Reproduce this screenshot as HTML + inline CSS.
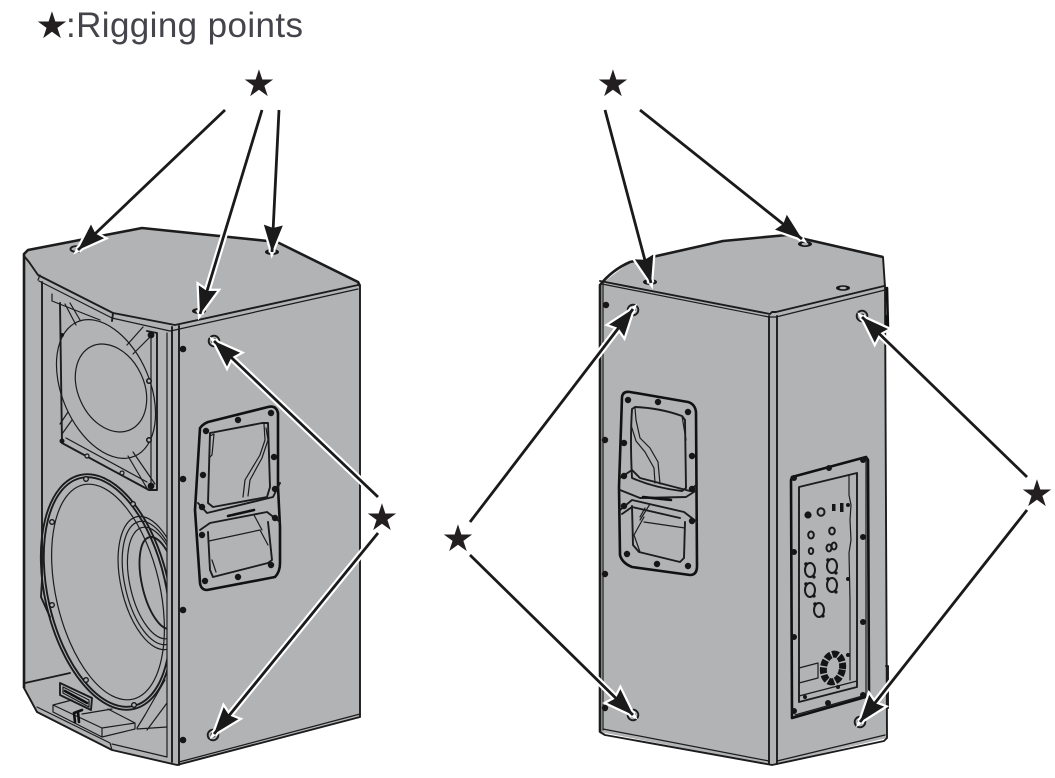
<!DOCTYPE html>
<html lang="en">
<head>
<meta charset="utf-8">
<title>Rigging points</title>
<style>
html,body{margin:0;padding:0;background:#fff;width:1055px;height:778px;overflow:hidden}
svg{display:block}
.b{fill:#b1b3b5;stroke:none}
.l{fill:none;stroke:#1c1c1c;stroke-width:1.2;stroke-linejoin:round;stroke-linecap:round}
.m{fill:none;stroke:#1c1c1c;stroke-width:1.9;stroke-linejoin:round;stroke-linecap:round}
.h{fill:none;stroke:#111;stroke-width:2.6;stroke-linejoin:round;stroke-linecap:round}
.t{fill:none;stroke:#1c1c1c;stroke-width:2.6;stroke-linejoin:round}
.d{fill:#161616;stroke:none}
.aw{fill:none;stroke:#fff;stroke-width:7;marker-end:url(#hw)}
.ab{fill:none;stroke:#1a1a1a;stroke-width:2.8;marker-end:url(#hb)}
.s{font-family:"DejaVu Sans",sans-serif;font-size:37px;fill:#231f20;text-anchor:middle}
</style>
</head>
<body>
<svg width="1055" height="778" viewBox="0 0 1055 778" xmlns="http://www.w3.org/2000/svg">
<defs>
<marker id="hb" markerUnits="userSpaceOnUse" markerWidth="40" markerHeight="40" refX="30" refY="20" orient="auto" overflow="visible">
<path d="M30,20 L3,10.5 L6,20 L3,29.5 Z" fill="#1a1a1a"/>
</marker>
<marker id="hw" markerUnits="userSpaceOnUse" markerWidth="40" markerHeight="40" refX="30" refY="20" orient="auto" overflow="visible">
<path d="M30,20 L3,10.5 L6,20 L3,29.5 Z" fill="#fff" stroke="#fff" stroke-width="4.5"/>
</marker>
<clipPath id="cw2"><polygon points="25,440 167,440 167,720 25,720"/></clipPath>
</defs>

<text class="s" x="52" y="38">★</text>
<text x="66" y="37" font-family="Liberation Sans, sans-serif" font-size="35" fill="#44444a" textLength="237" lengthAdjust="spacing">:Rigging points</text>

<!-- LEFT SPEAKER -->
<path class="b" d="M24,254 L28,250 L142,228 L277,242 L358,282 L360,286 L360,717 L177,765 L112,750 L37,712 L24,688 Z"/>
<path class="t" d="M24,688 L24,254 L28,250 L142,228 L277,242 L358,282 L360,286"/>
<path class="m" d="M360,286 L360,717 L177,765 L112,750 L37,712 L24,688"/>
<path class="m" d="M24,256 L29,262 L38,275 L113,313 L175,325 L358,285"/>
<path class="l" d="M38,280 L40,275 M39,281 L112,318 L170,331 L175,330 L358,289"/>
<path class="m" d="M113,313 L112,321"/>
<path class="m" d="M172,327 L172,762 M179,326 L179,765"/>
<path class="l" d="M167,333 L167,757 L112,744"/>
<path class="m" d="M42,282 L42,580"/>
<path class="l" d="M52,294 L52,301 L100,320"/>
<path class="m" d="M25,683 L70,673"/>
<path class="l" d="M37,707 L110,743 L112,750"/>
<path class="l" d="M179,762 L360,714"/>

<!-- upper horn -->
<path class="m" d="M60,303 L62,443 L149,490 L157,490 L157,333 L147,331"/>
<path class="l" d="M151,332 L151,487 M66,438 L147,482"/>
<ellipse class="l" cx="106" cy="389" rx="44" ry="73" transform="rotate(-23 106 389)"/>
<ellipse class="l" cx="111" cy="388" rx="33" ry="46" transform="rotate(-25 111 388)"/>
<path class="l" d="M65,304 L76,325 M70,303 L80,320 M127,345 L143,327 M133,354 L150,337 M72,420 L62,434 M68,412 L60,424 M128,456 L148,490 M133,452 L155,484"/>
<g class="d">
<circle cx="151" cy="335" r="3.4"/><circle cx="149" cy="381" r="3"/><circle cx="149" cy="440" r="3"/><circle cx="151" cy="486" r="3.4"/><circle cx="87" cy="456" r="2.6"/><circle cx="122" cy="473" r="2.6"/><circle cx="62" cy="441" r="2.5"/><circle cx="62" cy="335" r="2"/>
</g>
<g fill="#b1b3b5" stroke="none"><circle cx="149" cy="381" r="1.5"/><circle cx="149" cy="440" r="1.5"/><circle cx="87" cy="456" r="1.4"/><circle cx="122" cy="473" r="1.4"/></g>

<!-- woofer -->
<g clip-path="url(#cw2)">
<ellipse class="m" cx="107" cy="592" rx="62" ry="120" transform="rotate(-13 107 592)"/>
<ellipse class="m" cx="107" cy="592" rx="59" ry="117" transform="rotate(-13 107 592)"/>
<ellipse class="l" cx="108" cy="592" rx="52" ry="110" transform="rotate(-13 108 592)"/>
<ellipse class="l" cx="152" cy="583" rx="31" ry="68" transform="rotate(-13 152 583)"/>
<ellipse class="l" cx="153" cy="583" rx="28" ry="63" transform="rotate(-13 153 583)"/>
<ellipse class="l" cx="155" cy="583" rx="25" ry="57" transform="rotate(-13 155 583)"/>
<ellipse class="m" cx="160" cy="583" rx="18" ry="47" transform="rotate(-13 160 583)"/>
</g>
<path class="m" d="M42,580 L41,597 L50,617"/>
<g fill="#b1b3b5" stroke="#111" stroke-width="1.3">
<circle cx="86" cy="479" r="2.3"/><circle cx="133" cy="504" r="2.3"/><circle cx="52" cy="522" r="2.3"/><circle cx="52" cy="605" r="2.3"/><circle cx="86" cy="680" r="2.3"/><circle cx="134" cy="705" r="2.3"/>
</g>
<!-- bottom box and logo -->
<path class="m" d="M60,683 L92,698 L91,710 L60,695 Z"/>
<path class="l" d="M63,687 L89,700 L89,707 L63,693 Z"/>
<path class="h" d="M65,691 L87,703" stroke-dasharray="2 1"/>
<path class="l" d="M53,705 L72,700 M53,705 L53,712 L102,737 L135,729 L135,723 L108,709 M53,705 L102,728 L135,723 M102,728 L102,737"/>
<path class="l" d="M137,728 L145,715 L165,680 M147,730 L167,703 M137,729 L167,727"/>
<path class="h" d="M74,713 L82,710 M74,713 L75,722 M78,712 L79,722"/>
<path class="l" d="M82,714 L112,709"/>

<!-- left handle -->
<path class="h" d="M200,428 Q203,424 208,422 L268,407 Q276,405 278,413 L278,487 L280,527 L280,563 Q280,572 275,577 L207,590 Q201,590 200,583 L195,510 Z"/>
<path class="m" d="M210,433 L262,423 L268,423 L270,487 L267,497 L213,507 L208,503 Z"/>
<path class="m" d="M198,503 L207,513 L273,497 L280,483 M200,530 L210,523 L267,512 L280,522"/>
<path class="l" d="M210,436 L214,434 L212,455 L209,458 M264,424 L265,440 L260,455 L245,480 L243,497 M266,428 L268,440 L262,458 L250,480 L248,496"/>
<path class="m" d="M208,532 L210,570 L213,577 L268,563 L272,560 L268,522"/>
<path class="l" d="M209,541 L260,530 M260,530 L268,545 M254,515 L262,530 M212,560 L216,572"/>
<path class="h" d="M228,516 L254,510" stroke-width="3.5" stroke-dasharray="3 1"/>
<g class="d">
<circle cx="206" cy="431" r="3.2"/><circle cx="238" cy="420" r="3.2"/><circle cx="271" cy="413" r="3.2"/><circle cx="274" cy="457" r="3.2"/><circle cx="203" cy="475" r="3.2"/><circle cx="202" cy="507" r="3.2"/><circle cx="275" cy="489" r="3.2"/><circle cx="275" cy="518" r="3.2"/><circle cx="202" cy="535" r="3.2"/><circle cx="205" cy="581" r="3.2"/><circle cx="238" cy="577" r="3.2"/><circle cx="271" cy="565" r="3.2"/>
<circle cx="183" cy="349" r="3.3"/><circle cx="183" cy="479" r="3.3"/><circle cx="183" cy="610" r="3.3"/><circle cx="183" cy="740" r="3.3"/>
</g>
<!-- left rigging holes -->
<ellipse cx="76" cy="249" rx="5.5" ry="2.8" class="m"/>
<ellipse cx="272" cy="252" rx="7" ry="3" class="d"/><ellipse cx="272" cy="252" rx="3.5" ry="1.5" fill="#b1b3b5"/>
<ellipse cx="199" cy="311" rx="7" ry="3" class="d"/><ellipse cx="199" cy="311" rx="3.5" ry="1.5" fill="#b1b3b5"/>
<circle cx="214" cy="341" r="5.3" class="m"/><circle cx="214" cy="341" r="2.8" class="d"/>
<circle cx="213" cy="735" r="5.3" class="m"/><circle cx="213" cy="735" r="2.5" class="d"/>

<!-- RIGHT SPEAKER -->
<path class="b" d="M600,285 L630,262 L723,241 L787,235 L883,257 L886,287 L887,738 L772,765 L600,732 Z"/>
<path class="t" d="M600,732 L600,285 Q612,270 630,262 L723,241 L787,235 L883,257"/>
<path class="m" d="M883,257 L885,287 L887,738 L884,741 L772,765 L605,735 L600,732"/>
<path class="m" d="M600,281 L770,314 L772,312 L776,312 L884,286"/>
<path class="l" d="M602,284 L769,317 L776,317 L885,290"/>
<path class="m" d="M769,316 L769,764 M777,316 L777,764"/>
<path class="l" d="M603,283 L603,730 M603,729 L769,761 M777,761 L885,735"/>
<path class="h" d="M887,288 L888,330" stroke-width="2.6"/>
<path class="h" d="M886,316 L886,330 L888,330" stroke-width="2"/>
<path class="m" d="M886,666 L888,666 L888,708"/>

<!-- right handle -->
<path class="h" d="M622,397 Q623,391 630,392 L688,402 Q695,404 696,412 L697,566 Q697,575 690,575 L632,567 Q622,563 620,555 L619,487 Z"/>
<path class="m" d="M632,409 L635,407 Q660,408 682,416 L685,420 L686,488 L682,491 Q655,488 632,478 Q630,440 632,409 Z"/>
<path class="l" d="M635,408 L636,420 L640,438 L650,448 L658,462 L660,484 M632,412 L631,425 L636,441 L645,452 L654,468 L655,483"/>
<path class="l" d="M682,416 L686,440"/>
<path class="m" d="M620,478 L632,470 L640,478 L690,491 L697,484 M620,490 L640,498 L686,497 L697,490"/>
<path class="m" d="M620,510 L632,500 L684,512 L697,522 M622,514 L632,507 L680,518"/>
<path class="m" d="M632,506 L633,545 L639,552 L680,562 L684,558 L685,522"/>
<path class="l" d="M644,517 L634,535 L640,552 M644,522 L685,528 M650,504 L640,520 M645,508 L640,517"/>
<path class="h" d="M643,497 L671,500" stroke-width="3.5" stroke-dasharray="3 1"/>
<g class="d">
<circle cx="628" cy="400" r="3.2"/><circle cx="658" cy="402" r="3.2"/><circle cx="688" cy="412" r="3.2"/><circle cx="692" cy="456" r="3.2"/><circle cx="624" cy="443" r="3.2"/><circle cx="624" cy="476" r="3.2"/><circle cx="692" cy="489" r="3.2"/><circle cx="692" cy="521" r="3.2"/><circle cx="624" cy="506" r="3.2"/><circle cx="627" cy="554" r="3.2"/><circle cx="657" cy="564" r="3.2"/><circle cx="688" cy="566" r="3.2"/>
<circle cx="606" cy="305" r="3.2"/><circle cx="605" cy="440" r="3.2"/><circle cx="605" cy="574" r="3.2"/><circle cx="605" cy="708" r="3.2"/>
</g>
<!-- rear panel -->
<path class="h" d="M792,477 L866,457 L868,460 L869,696 L792,718 L791,480 Z"/>
<path class="l" d="M866,457 L866,695 L795,715"/>
<path class="m" d="M799,487 L857,473 L857,687 L799,702 Z"/>
<path class="l" d="M799,696 L857,681"/>
<path class="l" d="M849,475 L849,495 L851,505 L850,520 L851,540 L849,553 L850,600 L850,680"/>
<path class="l" d="M799,668 L818,663 L818,678 L799,683"/>
<g class="d">
<circle cx="794" cy="478" r="3"/><circle cx="829" cy="468" r="3"/><circle cx="863" cy="460" r="3"/><circle cx="863" cy="537" r="3"/><circle cx="794" cy="552" r="3"/><circle cx="863" cy="622" r="3"/><circle cx="794" cy="637" r="3"/><circle cx="863" cy="695" r="3"/><circle cx="828" cy="703" r="3"/><circle cx="794" cy="711" r="3"/>
<circle cx="848" cy="505" r="2"/><circle cx="848" cy="579" r="2"/><circle cx="848" cy="655" r="2"/><circle cx="805" cy="697" r="2"/><circle cx="838" cy="687" r="2"/>
<rect x="832" y="504" width="3.5" height="7"/><rect x="840" y="503" width="3.5" height="9"/>
<circle cx="808" cy="515" r="3.6"/>
</g>
<g fill="none" stroke="#1a1a1a" stroke-width="2">
<ellipse cx="821" cy="512" rx="3.5" ry="3.8"/>
<ellipse cx="811" cy="535" rx="2.8" ry="3.5"/><ellipse cx="832" cy="531" rx="2.8" ry="3.5"/>
<ellipse cx="811" cy="551" rx="2.2" ry="3"/><ellipse cx="829" cy="548" rx="2.5" ry="3.5"/><ellipse cx="834" cy="546" rx="2.5" ry="3.5"/>
<ellipse cx="810" cy="570" rx="5" ry="7"/><ellipse cx="832" cy="566" rx="5" ry="7"/>
<ellipse cx="810" cy="590" rx="5" ry="7"/><ellipse cx="832" cy="585" rx="5" ry="7"/>
<ellipse cx="819" cy="610" rx="5" ry="7"/>
</g>
<g class="d">
<circle cx="806" cy="564" r="1.8"/><circle cx="828" cy="560" r="1.8"/><circle cx="806" cy="584" r="1.8"/><circle cx="828" cy="579" r="1.8"/><circle cx="815" cy="604" r="1.8"/><circle cx="814" cy="577" r="1.6"/><circle cx="836" cy="573" r="1.6"/><circle cx="814" cy="596" r="1.6"/><circle cx="836" cy="592" r="1.6"/><circle cx="823" cy="616" r="1.6"/>
</g>
<ellipse cx="833" cy="668" rx="9.5" ry="14" fill="none" stroke="#141414" stroke-width="7" stroke-dasharray="6 1.5" transform="rotate(10 833 668)"/>

<!-- right rigging holes -->
<ellipse cx="650" cy="282" rx="7" ry="3" class="d"/><ellipse cx="650" cy="282" rx="3.5" ry="1.5" fill="#b1b3b5"/>
<ellipse cx="805" cy="244" rx="7" ry="3" class="d"/><ellipse cx="805" cy="244" rx="3.5" ry="1.4" fill="#b1b3b5"/>
<ellipse cx="843" cy="288" rx="7" ry="2.8" class="d"/><ellipse cx="843" cy="288" rx="3.5" ry="1.3" fill="#b1b3b5"/>
<circle cx="633" cy="310" r="5.3" class="m"/><circle cx="633" cy="310" r="2.4" class="d"/>
<circle cx="862" cy="316" r="5.3" class="m"/><circle cx="862" cy="316" r="2.4" class="d"/>
<circle cx="633" cy="715" r="5.3" class="m"/><circle cx="633" cy="715" r="2.3" class="d"/>
<circle cx="860" cy="722" r="5.3" class="m"/><circle cx="860" cy="722" r="2.3" class="d"/>

<!-- ARROWS: white halo -->
<g>
<line class="aw" x1="225" y1="110" x2="78" y2="250"/>
<line class="aw" x1="262" y1="110" x2="200" y2="314"/>
<line class="aw" x1="279" y1="110" x2="272" y2="252"/>
<line class="aw" x1="378" y1="497" x2="214" y2="341"/>
<line class="aw" x1="378" y1="533" x2="214" y2="734"/>
<line class="aw" x1="605" y1="110" x2="651" y2="283"/>
<line class="aw" x1="640" y1="110" x2="802" y2="239"/>
<line class="aw" x1="470" y1="522" x2="633" y2="309"/>
<line class="aw" x1="470" y1="555" x2="633" y2="715"/>
<line class="aw" x1="1027" y1="477" x2="862" y2="317"/>
<line class="aw" x1="1027" y1="510" x2="860" y2="722"/>
</g>
<g>
<line class="ab" x1="225" y1="110" x2="78" y2="250"/>
<line class="ab" x1="262" y1="110" x2="200" y2="314"/>
<line class="ab" x1="279" y1="110" x2="272" y2="252"/>
<line class="ab" x1="378" y1="497" x2="214" y2="341"/>
<line class="ab" x1="378" y1="533" x2="214" y2="734"/>
<line class="ab" x1="605" y1="110" x2="651" y2="283"/>
<line class="ab" x1="640" y1="110" x2="802" y2="239"/>
<line class="ab" x1="470" y1="522" x2="633" y2="309"/>
<line class="ab" x1="470" y1="555" x2="633" y2="715"/>
<line class="ab" x1="1027" y1="477" x2="862" y2="317"/>
<line class="ab" x1="1027" y1="510" x2="860" y2="722"/>
</g>

<!-- star labels -->
<text class="s" x="259" y="96">★</text>
<text class="s" x="613" y="96">★</text>
<text class="s" x="382" y="530">★</text>
<text class="s" x="458" y="551">★</text>
<text class="s" x="1037" y="506">★</text>
</svg>
</body>
</html>
